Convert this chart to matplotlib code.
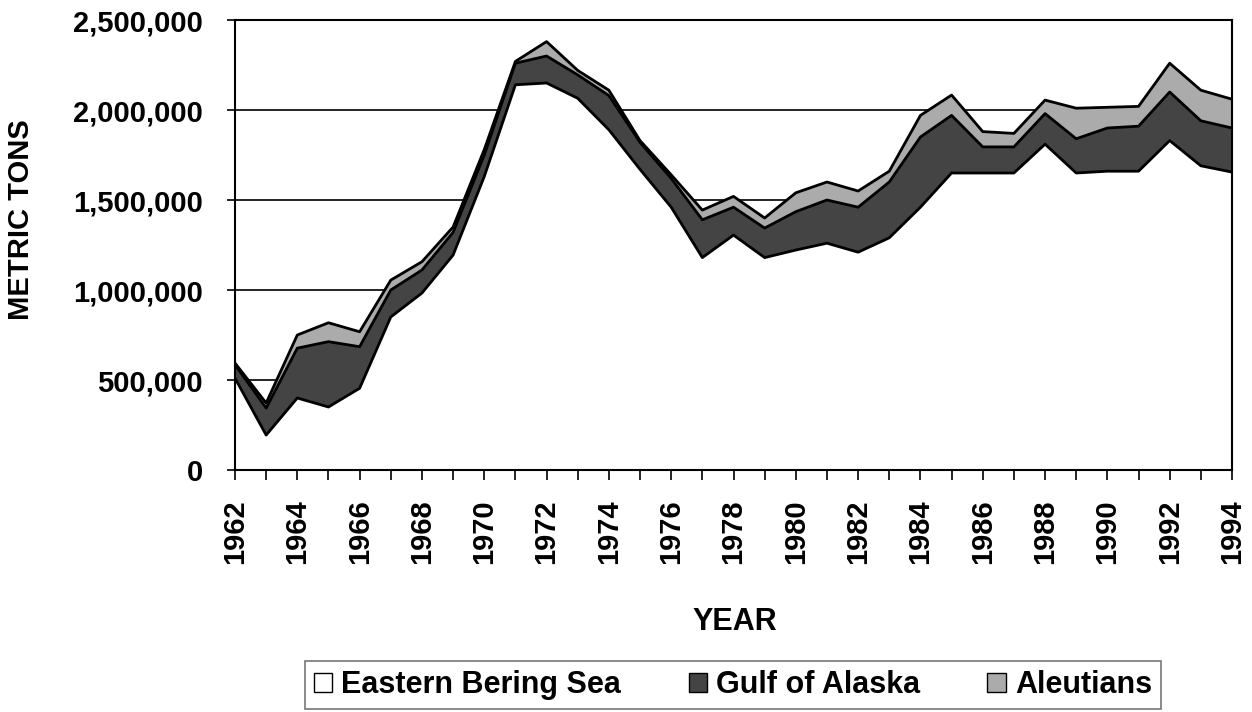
import numpy as np
import matplotlib
matplotlib.use("Agg")
import matplotlib.pyplot as plt
from matplotlib.patches import Patch

plt.rcParams['font.family'] = ['Liberation Sans', 'DejaVu Sans']
plt.rcParams['font.weight'] = 'bold'

years = list(range(1962, 1995))

# cumulative tops (metric tons)
ebs = [510000, 194000, 400000, 350000, 454000, 850000, 983000, 1194000, 1630000,
       2140000, 2150000, 2065000, 1890000, 1670000, 1460000, 1180000, 1305000,
       1180000, 1222000, 1260000, 1210000, 1290000, 1460000, 1650000, 1650000,
       1650000, 1810000, 1650000, 1660000, 1660000, 1830000, 1690000, 1655000]
gulf_top = [585000, 344000, 677000, 713000, 685000, 1000000, 1111000, 1320000, 1750000,
            2260000, 2300000, 2195000, 2080000, 1820000, 1620000, 1390000, 1460000,
            1344000, 1435000, 1500000, 1460000, 1600000, 1850000, 1970000, 1795000,
            1795000, 1980000, 1840000, 1900000, 1910000, 2100000, 1940000, 1900000]
total = [594000, 372000, 750000, 818000, 768000, 1055000, 1157000, 1350000, 1780000,
         2270000, 2380000, 2220000, 2110000, 1830000, 1640000, 1444000, 1520000,
         1400000, 1540000, 1600000, 1550000, 1660000, 1970000, 2083000, 1880000,
         1870000, 2055000, 2010000, 2015000, 2020000, 2260000, 2110000, 2060000]

series = ['Eastern Bering Sea', 'Gulf of Alaska', 'Aleutians']
colors = ['white', '#444444', '#ababab']

fig = plt.figure(figsize=(12.52, 7.12), dpi=100)
ax = fig.add_axes([235 / 1252, 1 - 470 / 712, 997 / 1252, 450 / 712])

x = np.array(years)
zero = np.zeros(len(x))
ax.fill_between(x, zero, ebs, facecolor=colors[0], edgecolor='none', zorder=2)
ax.fill_between(x, ebs, gulf_top, facecolor=colors[1], edgecolor='none', zorder=2)
ax.fill_between(x, gulf_top, total, facecolor=colors[2], edgecolor='none', zorder=2)
for top in (ebs, gulf_top, total):
    ax.plot(x, top, color='black', lw=2, zorder=3)

ax.set_xlim(1962, 1994)
ax.set_ylim(0, 2500000)
ax.set_yticks(np.arange(0, 2500001, 500000))
ax.set_yticklabels([f"{v:,}" for v in range(0, 2500001, 500000)], fontsize=21, fontweight='bold')
ax.set_xticks(years)
ax.set_xticklabels([str(y) if (y - 1962) % 2 == 0 else '' for y in years],
                   rotation=90, fontsize=21, fontweight='bold')
ax.tick_params(axis='x', direction='inout', length=14, width=1.2, pad=14)
ax.tick_params(axis='y', direction='out', length=6, width=1.2, pad=17)
ax.grid(axis='y', color='black', lw=1.2, zorder=1)
for s in ax.spines.values():
    s.set_linewidth(1.5)

fig.text(21 / 1252, 1 - 220 / 712, 'METRIC TONS', rotation=90, ha='center', va='center',
         fontsize=21, fontweight='bold')
fig.text(735 / 1252, 1 - 622 / 712, 'YEAR', ha='center', va='center',
         fontsize=22, fontweight='bold')

handles = [Patch(facecolor=c, edgecolor='black', lw=1) for c in colors]
leg = fig.legend(handles, series, ncol=3, loc='center',
                 bbox_to_anchor=(733 / 1252, 1 - 685 / 712),
                 prop={'size': 22, 'weight': 'bold'}, frameon=True, fancybox=False,
                 handlelength=0.6, handleheight=0.6, handletextpad=0.3,
                 columnspacing=2.2, borderpad=0.3)
leg.get_frame().set_edgecolor('#555555')
leg.get_frame().set_linewidth(1.2)

fig.savefig('out.png', dpi=100)
